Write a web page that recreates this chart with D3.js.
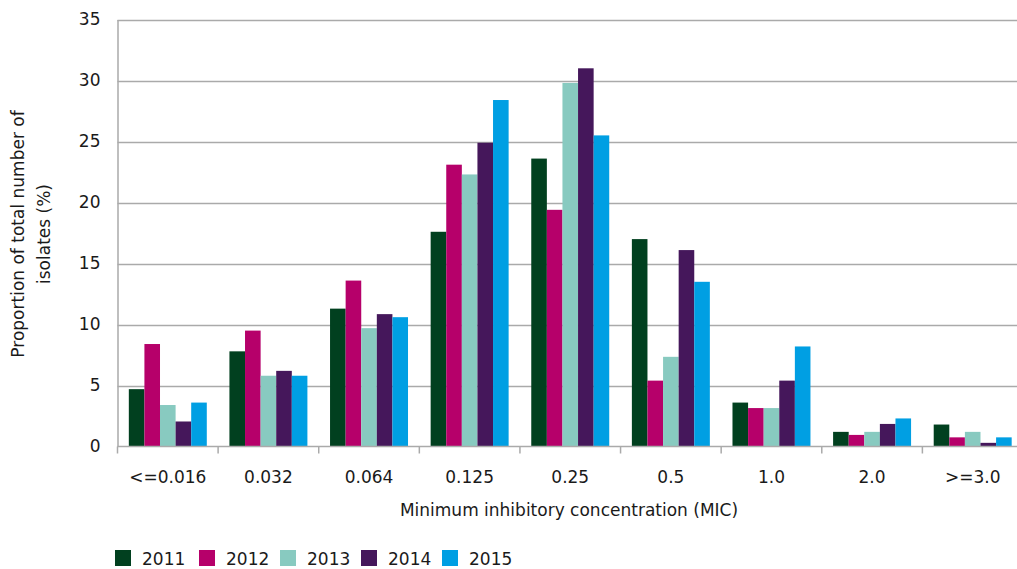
<!DOCTYPE html>
<html><head><meta charset="utf-8">
<script src="https://cdn.jsdelivr.net/npm/d3@7"></script>
<style>body{margin:0;background:#fff}svg{display:block}text{font-family:"DejaVu Sans",sans-serif;fill:#1a1a1a}</style>
</head><body><svg id="c" width="1017" height="569"></svg>
<script>
const categories = ["<=0.016","0.032","0.064","0.125","0.25","0.5","1.0","2.0",">=3.0"];
const years = ["2011","2012","2013","2014","2015"];
const colors = ["#01401f","#b6006a","#88cac0","#45175b","#009fe3"];
const v2011 = [4.7, 7.8, 11.3, 17.6, 23.6, 17.0, 3.6, 1.2, 1.8];
const v2012 = [8.4, 9.5, 13.6, 23.1, 19.4, 5.4, 3.15, 0.95, 0.75];
const v2013 = [3.4, 5.8, 9.7, 22.3, 29.8, 7.35, 3.15, 1.2, 1.2];
const v2014 = [2.05, 6.2, 10.85, 24.9, 31.0, 16.1, 5.4, 1.85, 0.3];
const v2015 = [3.6, 5.8, 10.6, 28.4, 25.5, 13.5, 8.2, 2.3, 0.75];
const series = [v2011, v2012, v2013, v2014, v2015];
const yTicks = [0,5,10,15,20,25,30,35];

const FS = 17;
const svg = d3.select("#c");
const L = 117.5, R = 1023, T = 19.5, B = 446.5;
const x = d3.scaleBand().domain(categories).range([L, R]).paddingInner(0.225).paddingOuter(0.1125);
const xs = d3.scaleBand().domain(years).range([0, x.bandwidth()]);
const y = d3.scaleLinear().domain([0,35]).range([B, T]);

// gridlines
svg.append("g").selectAll("line").data(yTicks.slice(1)).join("line")
  .attr("x1", L).attr("x2", R).attr("y1", d=>Math.round(y(d))+0.5).attr("y2", d=>Math.round(y(d))+0.5)
  .attr("stroke","#aaaaaa").attr("stroke-width",1.5);

// bars
const g = svg.append("g");
series.forEach((vals, i) => {
  g.append("g").selectAll("rect").data(vals).join("rect")
    .attr("x", (d,j)=>x(categories[j]) + xs(years[i]))
    .attr("width", xs.bandwidth())
    .attr("y", d=>y(d)).attr("height", d=>B - y(d))
    .attr("fill", colors[i]);
});

// y axis
const ya = svg.append("g").attr("transform",`translate(${L},0)`)
  .call(d3.axisLeft(y).tickValues(yTicks).tickSize(0).tickPadding(17));
ya.select(".domain").attr("stroke","#aaaaaa").attr("stroke-width",1.5);
ya.selectAll("text").attr("font-size",FS).attr("font-family","DejaVu Sans").attr("fill","#1a1a1a");

// x axis
const xa = svg.append("g").attr("transform",`translate(0,${B})`);
xa.append("line").attr("x1",L).attr("x2",R).attr("stroke","#aaaaaa").attr("stroke-width",1.5);
const bounds = categories.map((c,i)=> L + i*(R-L)/categories.length);
xa.selectAll("line.t").data(bounds).join("line").attr("class","t")
  .attr("x1",d=>d).attr("x2",d=>d).attr("y1",0).attr("y2",7).attr("stroke","#aaaaaa").attr("stroke-width",1.5);
xa.selectAll("text").data(categories).join("text")
  .attr("x",d=>x(d)+x.bandwidth()/2).attr("y",36).attr("text-anchor","middle").attr("font-size",FS).text(d=>d);

// axis titles
svg.append("text").attr("x",569).attr("y",516).attr("text-anchor","middle").attr("font-size",FS)
  .text("Minimum inhibitory concentration (MIC)");
const yt = svg.append("text").attr("transform","translate(0,234) rotate(-90)").attr("text-anchor","middle").attr("font-size",FS);
yt.append("tspan").attr("x",0).attr("y",24).text("Proportion of total number of");
yt.append("tspan").attr("x",0).attr("y",50).text("isolates (%)");

// legend
const lx = [115, 199, 280, 361, 442];
const lg = svg.append("g").selectAll("g").data(years).join("g").attr("transform",(d,i)=>`translate(${lx[i]},550)`);
lg.append("rect").attr("width",16).attr("height",16).attr("fill",(d,i)=>colors[i]);
lg.append("text").attr("x",27).attr("y",15).attr("font-size",FS).text(d=>d);
</script></body></html>
